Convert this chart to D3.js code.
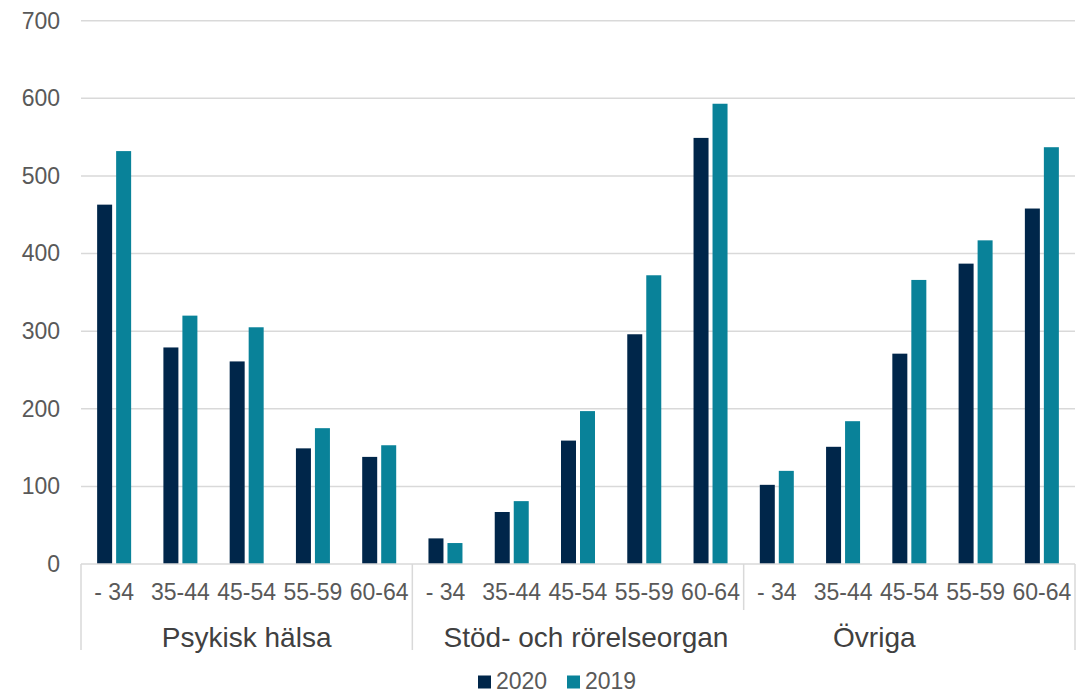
<!DOCTYPE html>
<html>
<head>
<meta charset="utf-8">
<script src="https://cdn.jsdelivr.net/npm/d3@7"></script>
<style>
    body { margin: 0; background: #fff; }
    text { font-family: "Liberation Sans", Arial, sans-serif; }
</style>
</head>
<body>
<div id="chart"></div>
<script>
const groups = ["Psykisk hälsa", "Stöd- och rörelseorgan", "Övriga"];
const ages = ["- 34", "35-44", "45-54", "55-59", "60-64"];
const seriesNames = ["2020", "2019"];
const values2020 = [463, 279, 261, 149, 138, 33, 67, 159, 296, 549, 102, 151, 271, 387, 458];
const values2019 = [532, 320, 305, 175, 153, 27, 81, 197, 372, 593, 120, 184, 366, 417, 537];
const yTicks = [0, 100, 200, 300, 400, 500, 600, 700];

const colors = { "2020": "#00264a", "2019": "#098299" };

const width = 1089;
const height = 694;
const plot = { left: 81, right: 1075, top: 20.7, bottom: 564 };

const svg = d3.select('#chart')
    .append('svg')
    .attr('width', width)
    .attr('height', height);

// one slot per group/age pair
const cats = [];
groups.forEach(g => ages.forEach(a => cats.push({ group: g, age: a })));
const data = cats.map((c, i) => ({ ...c, key: i, "2020": values2020[i], "2019": values2019[i] }));

const x0 = d3.scaleBand().domain(data.map(d => d.key)).range([plot.left, plot.right]);
const x1 = d3.scaleBand().domain(seriesNames).range([0, 34]).paddingInner(0.2105);
const y = d3.scaleLinear().domain([0, 700]).range([plot.bottom, plot.top]);

// gridlines
svg.append('g')
    .selectAll('line')
    .data(yTicks.filter(t => t > 0))
    .enter().append('line')
    .attr('x1', plot.left)
    .attr('x2', plot.right)
    .attr('y1', d => y(d))
    .attr('y2', d => y(d))
    .attr('stroke', '#d9d9d9')
    .attr('stroke-width', 1.5);

// y axis labels
const yAxis = svg.append('g')
    .attr('transform', `translate(${plot.left - 21},0)`)
    .call(d3.axisLeft(y).tickValues(yTicks).tickSize(0).tickPadding(0));
yAxis.select('.domain').remove();
yAxis.selectAll('text')
    .attr('fill', '#595959')
    .style('font-size', '23px');

// bars
const catG = svg.append('g')
    .selectAll('g')
    .data(data)
    .enter().append('g')
    .attr('transform', d => `translate(${x0(d.key) + x0.bandwidth() / 2 - 17},0)`);

catG.selectAll('rect')
    .data(d => seriesNames.map(s => ({ s, v: d[s] })))
    .enter().append('rect')
    .attr('x', d => x1(d.s))
    .attr('y', d => y(d.v))
    .attr('width', x1.bandwidth())
    .attr('height', d => y(0) - y(d.v))
    .attr('fill', d => colors[d.s]);

// x axis baseline
svg.append('line')
    .attr('x1', plot.left).attr('x2', plot.right)
    .attr('y1', y(0)).attr('y2', y(0))
    .attr('stroke', '#d9d9d9')
    .attr('stroke-width', 1.5);

// age labels
svg.append('g')
    .selectAll('text')
    .data(data)
    .enter().append('text')
    .attr('x', d => x0(d.key) + x0.bandwidth() / 2)
    .attr('y', 600)
    .attr('text-anchor', 'middle')
    .attr('fill', '#595959')
    .style('font-size', '23px')
    .text(d => d.age);

// group separators
const groupSpan = g => {
    const keys = data.filter(d => d.group === g).map(d => d.key);
    return [x0(keys[0]), x0(keys[keys.length - 1]) + x0.bandwidth()];
};
const edges = [plot.left];
groups.forEach(g => edges.push(groupSpan(g)[1]));
svg.append('g')
    .selectAll('line')
    .data(edges)
    .enter().append('line')
    .attr('x1', d => d).attr('x2', d => d)
    .attr('y1', y(0))
    .attr('y2', (d, i) => i === 2 ? 610 : 650)
    .attr('stroke', '#d9d9d9')
    .attr('stroke-width', 1.5);

// group labels (Excel nudges a couple of them off centre)
const labelShift = [0, 8, -35];
svg.append('g')
    .selectAll('text')
    .data(groups)
    .enter().append('text')
    .attr('x', (g, i) => d3.mean(groupSpan(g)) + labelShift[i])
    .attr('y', 647)
    .attr('text-anchor', 'middle')
    .attr('fill', '#404040')
    .style('font-size', '28px')
    .text(g => g);

// legend
const legend = svg.append('g')
    .selectAll('g')
    .data(seriesNames)
    .enter().append('g')
    .attr('transform', (d, i) => `translate(${478 + i * 89},0)`);

legend.append('rect')
    .attr('y', 675.5)
    .attr('width', 13)
    .attr('height', 13)
    .attr('fill', d => colors[d]);

legend.append('text')
    .attr('x', 18)
    .attr('y', 688.5)
    .attr('fill', '#595959')
    .style('font-size', '23px')
    .text(d => d);
</script>
</body>
</html>
